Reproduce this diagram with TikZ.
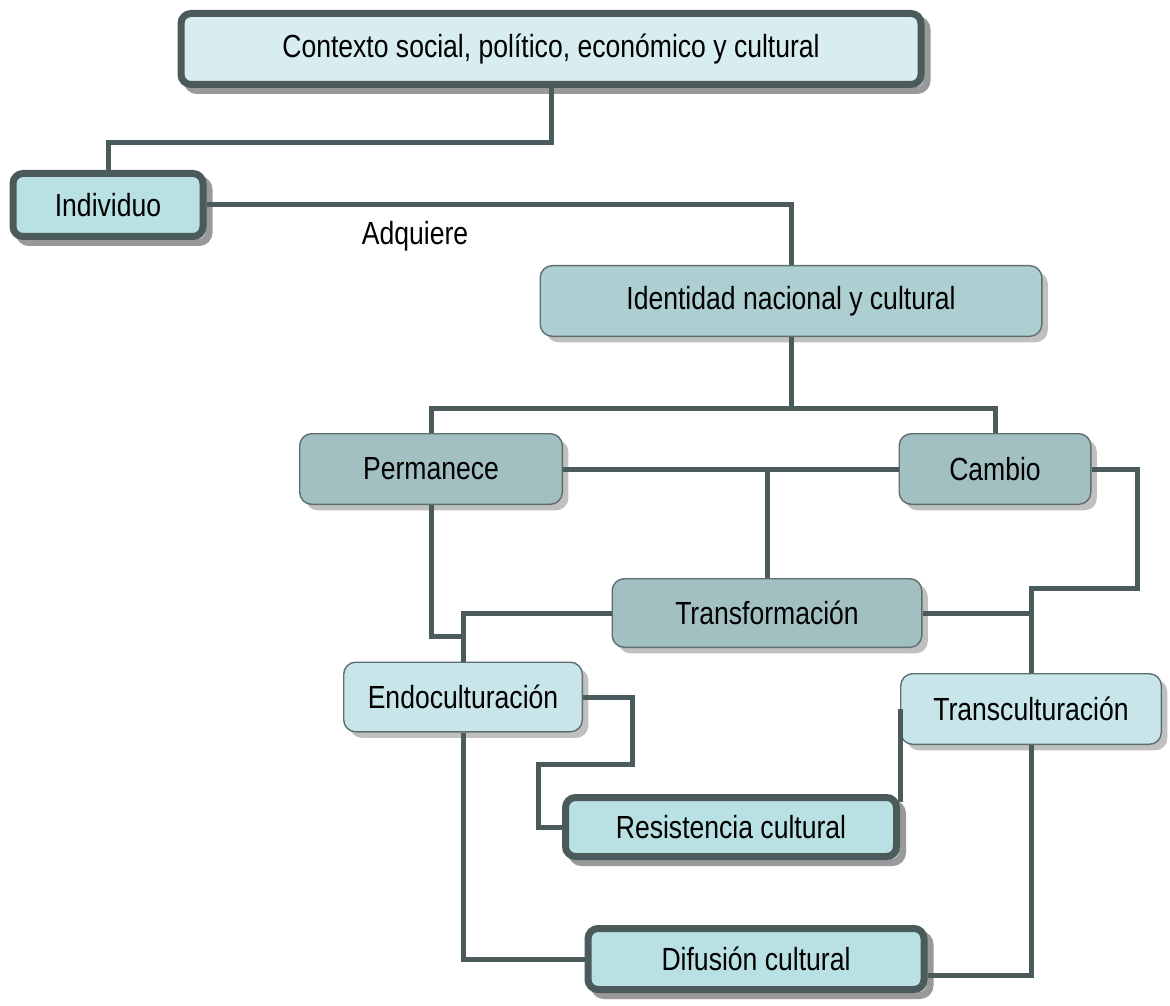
\documentclass[tikz,border=0pt]{standalone}
\usepackage{fontspec}
\setmainfont{Liberation Sans}[FakeStretch=0.83]
\usepackage{xcolor}
\usetikzlibrary{positioning, shadows}
\definecolor{edgegray}{RGB}{75,91,92}
\definecolor{thinedge}{RGB}{93,110,110}
\definecolor{shadowgray}{RGB}{192,192,192}
\definecolor{ctxfill}{RGB}{215,237,240}
\definecolor{boldfill}{RGB}{185,224,227}
\definecolor{idenfill}{RGB}{174,207,209}
\definecolor{darkfill}{RGB}{162,192,194}
\definecolor{lightfill}{RGB}{200,230,233}

\begin{document}
\begin{tikzpicture}
        [
        x=0.5pt, y=-0.5pt,
        every node/.style = {font=\fontsize{16}{19}\selectfont, inner sep=0pt},
        box/.style = {draw=thinedge, line width=0.7pt, rounded corners=6pt,
            drop shadow={shadow xshift=3pt, shadow yshift=-3pt, fill=shadowgray, opacity=1}},
        boldbox/.style = {draw=edgegray, line width=3.5pt, rounded corners=5pt,
            drop shadow={shadow xshift=3pt, shadow yshift=-3pt, fill=shadowgray, draw=gray!80, opacity=1}},
        link/.style = {draw=edgegray, line width=2.5pt}
        ]
    \useasboundingbox (0,0) rectangle (1170,1005);

    \node[boldbox, fill=ctxfill, minimum width=370pt, minimum height=35.5pt] (ctx) at (551,49) {Contexto social, político, económico y cultural};
    \node[boldbox, fill=boldfill, minimum width=95pt, minimum height=31.5pt] (ind) at (108,205) {Individuo};
    \node[box, fill=idenfill, minimum width=250.8pt, minimum height=35.3pt] (iden) at (791,301) {Identidad nacional y cultural};
    \node[box, fill=darkfill, minimum width=131.3pt, minimum height=35.3pt] (perm) at (431,469) {Permanece};
    \node[box, fill=darkfill, minimum width=95.8pt, minimum height=35.3pt] (cam) at (995,469) {Cambio};
    \node[box, fill=darkfill, minimum width=154.8pt, minimum height=34.3pt] (trans) at (767,613) {Transformación};
    \node[box, fill=lightfill, minimum width=119.3pt, minimum height=34.8pt] (endo) at (463,697) {Endoculturación};
    \node[box, fill=lightfill, minimum width=130.3pt, minimum height=35.3pt] (transc) at (1031,709) {Transculturación};
    \node[boldbox, fill=boldfill, minimum width=165.5pt, minimum height=29.5pt] (res) at (731,827) {Resistencia cultural};
    \node[boldbox, fill=boldfill, minimum width=168pt, minimum height=30.5pt] (dif) at (756,959) {Difusión cultural};
    \node (adq) at (415,236) {Adquiere};

    \draw[link] (ctx.south) -- ++(0,55) -| (ind.north);
    \draw[link] (ind.east) -| (iden.north);
    \draw[link] (iden.south) -- (iden.south |- 0,408);
    \draw[link] (perm.north) |- (cam.north |- 0,408) -- (cam.north);
    \draw[link] (perm.east) -- (cam.west);
    \draw[link] (trans.north) -- (trans.north |- perm.east);
    \draw[link] (cam.east) -- ++(46,0) |- (transc.north |- 0,588) -- (transc.north);
    \draw[link] (trans.east) -- (trans.east -| transc.north);
    \draw[link] (trans.west) -| (endo.north);
    \draw[link] (perm.south) -- ++(0,131) -| (endo.north);
    \draw[link] (endo.east) -- ++(49,0) |- ++(-94,67) |- (res.west);
    \draw[link] (transc.west) -- ([yshift=-4pt]transc.west |- res.north);
    \draw[link] (endo.south) |- (dif.west);
    \draw[link] (transc.south) |- ([yshift=-8pt]dif.east);
    \end{tikzpicture}
\end{document}
